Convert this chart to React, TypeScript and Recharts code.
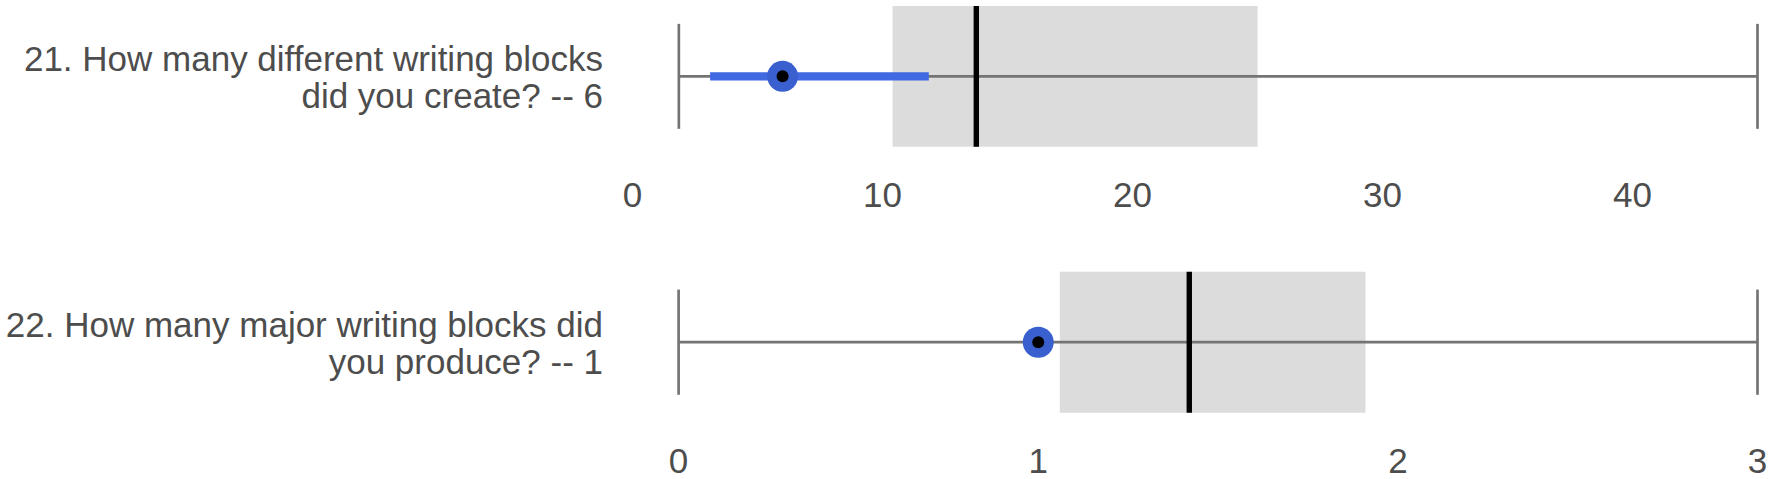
import { ComposedChart, XAxis, YAxis, ReferenceArea, ReferenceLine, Scatter } from "recharts"

const questionLines = [
  ["21. How many different writing blocks", "did you create? -- 6"],
  ["22. How many major writing blocks did", "you produce? -- 1"],
]
const answers = [6, 1]
const mins = [1.85, 0]
const q1s = [10.4, 1.06]
const medians = [13.75, 1.42]
const q3s = [25, 1.91]
const maxs = [45, 3]
const ciLows = [3.1, 1]
const ciHighs = [11.85, 1]
const domains = [
  [0, 45],
  [0, 3],
]
const tickValues = [
  [0, 10, 20, 30, 40],
  [0, 1, 2, 3],
]

const font = "'Liberation Sans', Arial, sans-serif"
const textColor = "#4d4d4d"

const Dot = (props: any) => {
  const { cx, cy } = props
  return (
    <g>
      <circle cx={cx} cy={cy} r={15.5} fill="#3a60d0" />
      <circle cx={cx} cy={cy} r={6} fill="#000000" />
    </g>
  )
}

function Panel({ i, top, height, left, plotTop, plotBottom }: any) {
  const axisH = 60
  return (
    <div style={{ position: "absolute", left: 0, top, width: 1772, height }}>
      <ComposedChart
        width={1772}
        height={height}
        margin={{ top: plotTop, right: 14.5, bottom: plotBottom - axisH, left }}
      >
        <XAxis
          type="number"
          dataKey="x"
          domain={domains[i]}
          ticks={tickValues[i]}
          allowDataOverflow
          axisLine={false}
          tickLine={false}
          tickSize={0}
          tickMargin={35.5}
          height={axisH}
          tick={{ fill: textColor, fontSize: 35, fontFamily: font }}
          interval={0}
        />
        <YAxis type="number" dataKey="y" domain={[-1, 1]} hide />
        <ReferenceArea x1={q1s[i]} x2={q3s[i]} y1={-1} y2={1} fill="#dcdcdc" fillOpacity={1} stroke="none" />
        <ReferenceLine
          segment={[
            { x: mins[i], y: 0 },
            { x: maxs[i], y: 0 },
          ]}
          stroke="#747474"
          strokeWidth={2.7}
        />
        <ReferenceLine
          segment={[
            { x: mins[i], y: -0.746 },
            { x: mins[i], y: 0.746 },
          ]}
          stroke="#747474"
          strokeWidth={2.7}
        />
        <ReferenceLine
          segment={[
            { x: maxs[i], y: -0.746 },
            { x: maxs[i], y: 0.746 },
          ]}
          stroke="#747474"
          strokeWidth={2.7}
        />
        <ReferenceLine
          segment={[
            { x: medians[i], y: -1 },
            { x: medians[i], y: 1 },
          ]}
          stroke="#000000"
          strokeWidth={5.4}
        />
        <ReferenceLine
          segment={[
            { x: ciLows[i], y: 0 },
            { x: ciHighs[i], y: 0 },
          ]}
          stroke="#4169e1"
          strokeWidth={8.3}
        />
        <Scatter data={[{ x: answers[i], y: 0 }]} shape={Dot} isAnimationActive={false} />
      </ComposedChart>
    </div>
  )
}

function Label({ lines, top }: any) {
  return (
    <div
      style={{
        position: "absolute",
        left: 0,
        top,
        width: 603,
        textAlign: "right",
        fontFamily: font,
        fontSize: 35,
        lineHeight: "37px",
        color: textColor,
        whiteSpace: "nowrap",
      }}
    >
      {lines.map((l: string, k: number) => (
        <div key={k}>{l}</div>
      ))}
    </div>
  )
}

export default function App() {
  return (
    <div style={{ position: "relative", width: 1772, height: 479, background: "#fff", overflow: "hidden" }}>
      <style>{"body{margin:0}"}</style>
      <Panel i={0} top={0} height={240} left={632.6} plotTop={6} plotBottom={240 - 146.7} />
      <Panel i={1} top={240} height={239} left={678.6} plotTop={31.7} plotBottom={239 - 172.7} />
      <Label lines={questionLines[0]} top={40.4} />
      <Label lines={questionLines[1]} top={306.1} />
    </div>
  )
}
